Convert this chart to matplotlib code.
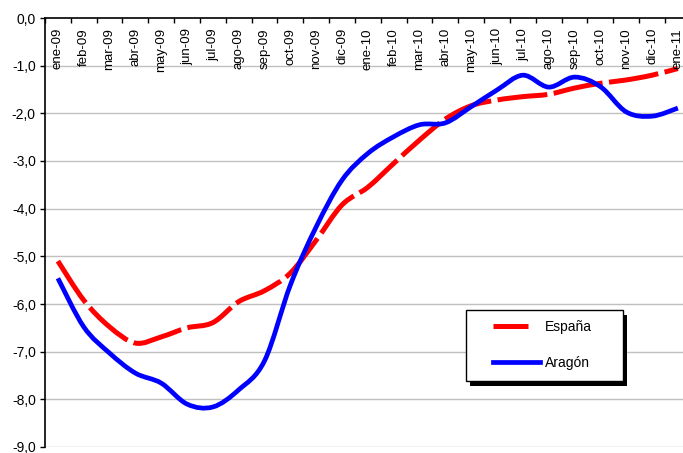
import matplotlib
matplotlib.use("Agg")
import matplotlib.pyplot as plt
from matplotlib.path import Path
from matplotlib.patches import PathPatch, Rectangle
from matplotlib.lines import Line2D
import matplotlib.transforms as mtransforms

plt.rcParams['font.family'] = ['Liberation Sans', 'DejaVu Sans']

categories = ["ene-09", "feb-09", "mar-09", "abr-09", "may-09", "jun-09", "jul-09",
              "ago-09", "sep-09", "oct-09", "nov-09", "dic-09", "ene-10", "feb-10",
              "mar-10", "abr-10", "may-10", "jun-10", "jul-10", "ago-10", "sep-10",
              "oct-10", "nov-10", "dic-10", "ene-11"]
espana = [-5.10, -5.92, -6.48, -6.82, -6.69, -6.50, -6.39, -5.95, -5.72, -5.35,
          -4.66, -3.92, -3.55, -3.05, -2.56, -2.12, -1.84, -1.72, -1.65, -1.60,
          -1.47, -1.37, -1.30, -1.20, -1.06]
aragon = [-5.46, -6.48, -7.03, -7.45, -7.66, -8.10, -8.16, -7.80, -7.19, -5.60,
          -4.38, -3.40, -2.84, -2.49, -2.24, -2.20, -1.86, -1.51, -1.20, -1.45,
          -1.24, -1.44, -1.97, -2.06, -1.89]
yticks = [0, -1, -2, -3, -4, -5, -6, -7, -8, -9]
series_names = ["España", "Aragón"]


def smooth_path(xs, ys):
    n = len(xs)
    verts = [(xs[0], ys[0])]
    codes = [Path.MOVETO]
    for i in range(n - 1):
        x0, y0 = xs[i], ys[i]
        x1, y1 = xs[i + 1], ys[i + 1]
        xm, ym = (xs[i - 1], ys[i - 1]) if i > 0 else (x0, y0)
        xp, yp = (xs[i + 2], ys[i + 2]) if i + 2 < n else (x1, y1)
        c1 = (x0 + (x1 - xm) / 6.0, y0 + (y1 - ym) / 6.0)
        c2 = (x1 - (xp - x0) / 6.0, y1 - (yp - y0) / 6.0)
        verts += [c1, c2, (x1, y1)]
        codes += [Path.CURVE4] * 3
    return Path(verts, codes)


W, H = 683, 453
fig = plt.figure(figsize=(W / 100, H / 100), dpi=100)
left_px, right_px, top_px, bot_px = 45, 690.8, 18, 447
ax = fig.add_axes([left_px / W, (H - bot_px) / H, (right_px - left_px) / W,
                   (bot_px - top_px) / H])

xs = list(range(len(categories)))
ax.set_xlim(-0.5, len(categories) - 0.5)
ax.set_ylim(-9, 0)

# grid
for v in yticks[1:]:
    ax.axhline(v, color='#c0c0c0', lw=1.0, zorder=0)

red_dash = (0, (10.0, 1.3))
red_patch = PathPatch(smooth_path(xs, espana), facecolor='none', edgecolor='#ff0000',
                      lw=3.6, linestyle=red_dash, capstyle='butt', zorder=3)
blue_patch = PathPatch(smooth_path(xs, aragon), facecolor='none', edgecolor='#0000ff',
                       lw=3.4, capstyle='butt', zorder=4)
ax.add_patch(red_patch)
ax.add_patch(blue_patch)

# spines
for s in ['right', 'bottom']:
    ax.spines[s].set_visible(False)
ax.spines['left'].set_linewidth(1.2)
ax.spines['top'].set_linewidth(1.2)

ax.set_yticks(yticks)
ax.set_yticklabels([f"{v:.1f}".replace('.', ',') for v in yticks], fontsize=10)
ax.tick_params(axis='y', direction='out', length=3.6, width=1.0, pad=3)

ax.xaxis.tick_top()
ax.set_xticks([i - 0.5 for i in range(len(categories) + 1)])
ax.set_xticklabels([])
ax.tick_params(axis='x', direction='in', length=3.6, width=1.0)

trans = mtransforms.blended_transform_factory(ax.transData, ax.transAxes)
for i, c in enumerate(categories):
    ax.text(i, 1 - 10 / (bot_px - top_px), c, transform=trans, rotation=90,
            ha='center', va='top', fontsize=9.5)

# legend box with shadow (figure pixel coords)
bx0, bx1, by0, by1 = 466, 623, 310, 381
fig.patches.append(Rectangle(((bx0 + 4) / W, (H - by1 - 5) / H), (bx1 - bx0) / W,
                             (by1 - by0) / H, transform=fig.transFigure,
                             facecolor='black', edgecolor='none', zorder=5))
fig.patches.append(Rectangle((bx0 / W, (H - by1) / H), (bx1 - bx0) / W,
                             (by1 - by0) / H, transform=fig.transFigure,
                             facecolor='white', edgecolor='black', lw=1.0, zorder=6))
handles = [Line2D([], [], color='#ff0000', lw=3.6, linestyle=(0, (7.0, 20.0))),
           Line2D([], [], color='#0000ff', lw=3.4)]
leg = fig.legend(handles, series_names, loc='upper left',
                 bbox_to_anchor=(493 / W, (H - 320) / H), frameon=False,
                 fontsize=10, handlelength=3.4, handletextpad=0.35,
                 labelspacing=1.6, borderpad=0, borderaxespad=0)
leg.set_zorder(7)

fig.savefig("out.png", dpi=100)
